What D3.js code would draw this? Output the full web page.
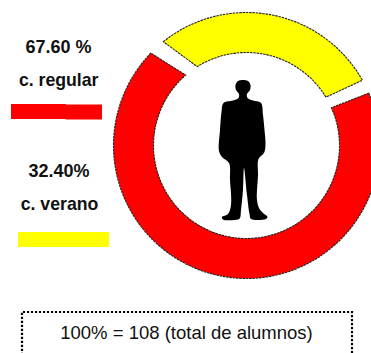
<!DOCTYPE html>
<html><head><meta charset="utf-8">
<script src="https://cdn.jsdelivr.net/npm/d3@7/dist/d3.min.js"></script>
<style>html,body{margin:0;padding:0;background:#fff}svg{display:block}</style>
</head><body><div id="c"></div>
<script>
const categories = ["c. regular", "c. verano"];
const percentLabels = ["67.60 %", "32.40%"];
const sliceColors = ["#ff0000", "#ffff00"];
// Slice end angles (degrees clockwise from 12 o'clock).
const outerStart = [66.8, -38.7];
const outerEnd = [314, 60.6];
const innerStart = [66, -32];
const innerEnd = [319.2, 58.7];
const totalNote = "100% = 108 (total de alumnos)";

const W = 371, H = 353;
const svg = d3.select("#c").append("svg").attr("width", W).attr("height", H);
svg.append("rect").attr("width", W).attr("height", H).attr("fill", "#fff");

const toRad = d3.scaleLinear().domain([0, 360]).range([-Math.PI / 2, 1.5 * Math.PI]);
const cx = 246.5, cy = 145.5, rOuter = 133, rInner = 93;

function ringPath(i) {
  const p = d3.path();
  const a0 = toRad(outerStart[i]), a1 = toRad(outerEnd[i]);
  const b0 = toRad(innerStart[i]), b1 = toRad(innerEnd[i]);
  p.arc(cx, cy, rOuter, a0, a1);
  p.arc(cx, cy, rInner, b1, b0, true);
  p.closePath();
  return p.toString();
}

svg.selectAll("path.slice").data(categories).join("path")
  .attr("class", "slice")
  .attr("d", (d, i) => ringPath(i))
  .attr("fill", (d, i) => sliceColors[i])
  .attr("stroke", "#222").attr("stroke-width", 1.1)
  .attr("stroke-dasharray", "2.5 0.8");

// Silhouette of a standing person
const figure = [[223.5,103],[233,100.5],[238.5,98],[239,94],[236,90],[235.5,85],[238,81],[243,80],[248,81],[250.5,85],[250,90],[247,94],[247.5,98],[253,100.5],[261,103],[263,115],[264.5,130],[265.5,145],[264,153],[258.5,159],[258,175],[257,200],[259,208],[263,213],[267.5,217],[266,219],[251,219],[249.5,214],[247,195],[244,168],[243,190],[241,210],[240,218],[238,219.5],[223,219.5],[222,217],[228,214],[231,205],[230,180],[229,163],[222,157],[219,151],[220,130],[221.5,112]];
svg.append("path")
  .attr("d", d3.line().curve(d3.curveCatmullRomClosed.alpha(0.5))(figure))
  .attr("fill", "#000");

// Left-hand legend
const labelFont = "'Liberation Sans', Arial, sans-serif";
const addText = (x, y, t, size, weight) => svg.append("text")
  .attr("x", x).attr("y", y).attr("text-anchor", "middle")
  .attr("font-family", labelFont).attr("font-size", size).attr("font-weight", weight)
  .attr("fill", "#111").text(t);

addText(58.5, 52.5, percentLabels[0], 18, "bold");
addText(58.7, 85.5, categories[0], 17.7, "bold");
addText(59, 177, percentLabels[1], 18, "bold");
addText(59.5, 210, categories[1], 17.7, "bold");

svg.append("rect").attr("x", 11).attr("y", 104).attr("width", 55).attr("height", 15).attr("fill", sliceColors[0]);
svg.append("rect").attr("x", 66).attr("y", 104.5).attr("width", 36).attr("height", 15).attr("fill", sliceColors[0]);
svg.append("rect").attr("x", 18).attr("y", 232).attr("width", 91).attr("height", 15).attr("fill", sliceColors[1]);

// Dotted note box, running off the bottom edge
svg.append("path")
  .attr("d", d3.line()([[22, H + 2], [22, 312], [352, 312], [352, H + 2]]))
  .attr("fill", "none").attr("stroke", "#000").attr("stroke-width", 2.2)
  .attr("stroke-dasharray", "2.2 1.8");
addText(186.5, 339, totalNote, 18.5, "normal");
</script></body></html>
